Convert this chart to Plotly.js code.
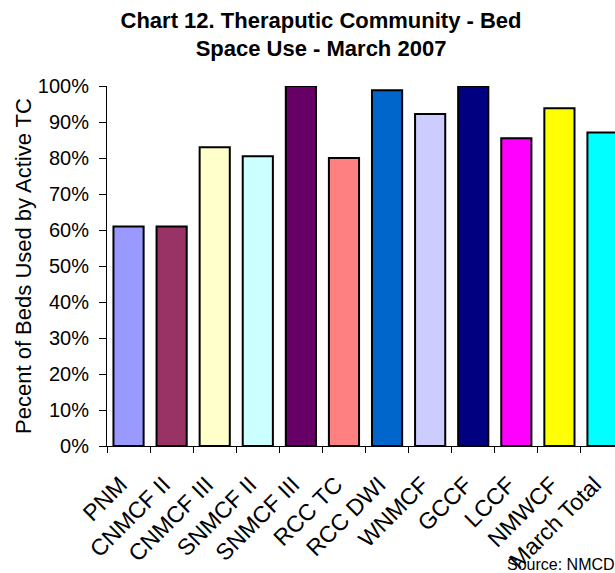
<!DOCTYPE html>
<html>
<head>
<meta charset="utf-8">
<script src="https://cdn.plot.ly/plotly-3.0.1.min.js"></script>
<style>
html, body { margin: 0; padding: 0; overflow: hidden; background: #fff; }
#chart { width: 615px; height: 573px; }
</style>
</head>
<body>
<div id="chart"></div>
<script>
const categories = ["PNM", "CNMCF II", "CNMCF III", "SNMCF II", "SNMCF III", "RCC TC", "RCC DWI", "WNMCF", "GCCF", "LCCF", "NMWCF", "March Total"];
const bedUse = [0.61, 0.61, 0.83, 0.805, 1.00, 0.80, 0.988, 0.922, 1.00, 0.855, 0.938, 0.871];
const barColors = ["#9999FF", "#993366", "#FFFFCC", "#CCFFFF", "#660066", "#FF8080", "#0066CC", "#CCCCFF", "#000080", "#FF00FF", "#FFFF00", "#00FFFF"];
const yTickVals = [0, 0.1, 0.2, 0.3, 0.4, 0.5, 0.6, 0.7, 0.8, 0.9, 1.0];
const yTickText = ["0%", "10%", "20%", "30%", "40%", "50%", "60%", "70%", "80%", "90%", "100%"];

const font = "Liberation Sans, Arial, Helvetica, sans-serif";

const trace = {
  type: "bar",
  x: categories,
  y: bedUse,
  marker: { color: barColors, line: { color: "#000000", width: 2 } },
  hoverinfo: "x+y"
};

const layout = {
  width: 615,
  height: 573,
  margin: { l: 107, r: 0, t: 86, b: 127, pad: 0 },
  paper_bgcolor: "#ffffff",
  plot_bgcolor: "#ffffff",
  bargap: 0.3,
  showlegend: false,
  font: { family: font, color: "#000000" },
  title: {
    text: "<b>Chart 12. Theraputic Community - Bed<br>Space Use - March 2007</b>",
    font: { family: font, size: 22, color: "#000000" },
    xref: "container", x: 0.522, xanchor: "center",
    yref: "container", y: 0.952, yanchor: "middle"
  },
  xaxis: {
    type: "category",
    range: [-0.5, 11.29],
    tickangle: -45,
    tickfont: { family: font, size: 23, color: "#000000" },
    ticks: "outside",
    tickson: "boundaries",
    ticklen: 6,
    tickcolor: "#000000",
    ticklabelstandoff: 15,
    ticklabelshift: -8,
    showline: true,
    linecolor: "#000000",
    linewidth: 1,
    showgrid: false,
    zeroline: false,
    fixedrange: true
  },
  yaxis: {
    range: [0, 1],
    tickvals: yTickVals,
    ticktext: yTickText,
    tickfont: { family: font, size: 20, color: "#000000" },
    ticks: "outside",
    ticklen: 7,
    tickcolor: "#000000",
    ticklabelstandoff: 6,
    showline: true,
    linecolor: "#000000",
    linewidth: 1,
    showgrid: false,
    zeroline: false,
    fixedrange: true,
    automargin: true,
    title: {
      text: "Pecent of Beds Used by Active TC",
      font: { family: font, size: 22, color: "#000000" },
      standoff: 0
    }
  },
  annotations: [{
    text: "Source: NMCD",
    xref: "paper", yref: "paper",
    x: (505 - 107) / 508, y: -(564 - 446) / 360,
    xanchor: "left", yanchor: "middle",
    showarrow: false,
    font: { family: font, size: 16, color: "#000000" }
  }]
};

Plotly.newPlot("chart", [trace], layout, { displayModeBar: false, staticPlot: true });
</script>
</body>
</html>
